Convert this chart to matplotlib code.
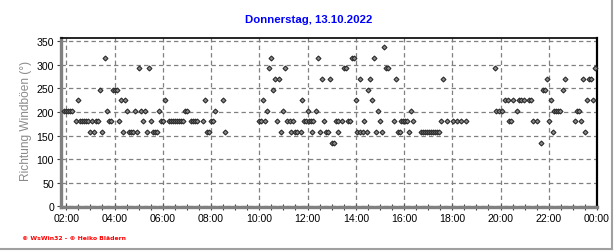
import matplotlib
matplotlib.use("Agg")
import matplotlib.pyplot as plt
from matplotlib.lines import Line2D
from matplotlib.ticker import MultipleLocator

# ---------------- data ----------------
title = "Donnerstag, 13.10.2022"
y_label = "Richtung Windböen (°)"
footer = "© WsWin32 - © Heiko Blädern"

x_tick_hours = [2, 4, 6, 8, 10, 12, 14, 16, 18, 20, 22, 24]
x_tick_labels = ["02:00", "04:00", "06:00", "08:00", "10:00", "12:00",
                 "14:00", "16:00", "18:00", "20:00", "22:00", "00:00"]
y_ticks = [0, 50, 100, 150, 200, 250, 300, 350]

times = [
    "01:55", "02:00", "02:05", "02:10", "02:15", "02:25", "02:30", "02:35", "02:40", "02:45",
    "02:50", "02:55", "03:00", "03:05", "03:10", "03:15", "03:20", "03:25", "03:30", "03:35",
    "03:40", "03:45", "03:50", "03:55", "04:00", "04:05", "04:10", "04:15", "04:20", "04:25",
    "04:30", "04:35", "04:40", "04:45", "04:50", "04:55", "05:00", "05:05", "05:10", "05:15",
    "05:20", "05:25", "05:30", "05:35", "05:40", "05:45", "05:50", "05:55", "06:00", "06:05",
    "06:15", "06:20", "06:25", "06:30", "06:35", "06:40", "06:45", "06:50", "06:55", "07:00",
    "07:10", "07:15", "07:20", "07:25", "07:40", "07:45", "07:50", "07:55", "08:00", "08:05",
    "08:10", "08:30", "08:35",
    "10:00", "10:05", "10:10", "10:15", "10:20", "10:25", "10:30", "10:35", "10:40", "10:45",
    "10:50", "10:55", "11:00", "11:05", "11:10", "11:17", "11:20", "11:25", "11:28", "11:35",
    "11:43", "11:45", "11:50", "11:55", "12:00", "12:03", "12:08", "12:10", "12:13", "12:20",
    "12:25", "12:30", "12:35", "12:40", "12:45", "12:50", "12:55", "13:00", "13:05", "13:10",
    "13:15", "13:17", "13:25", "13:30", "13:35", "13:40", "13:45", "13:50", "13:55", "14:00",
    "14:02", "14:10", "14:10", "14:17", "14:20", "14:27", "14:30", "14:35", "14:40", "14:45",
    "14:50", "14:55", "15:00", "15:05", "15:10", "15:15", "15:20", "15:34", "15:39", "15:44",
    "15:49", "15:52", "15:57", "16:02", "16:07", "16:12", "16:17", "16:22", "16:42", "16:47",
    "16:52", "16:57", "17:02", "17:07", "17:12", "17:17", "17:22", "17:27", "17:32", "17:37",
    "17:47", "18:02", "18:12", "18:22", "18:33",
    "19:46", "19:48", "19:55", "20:03", "20:11", "20:18", "20:21", "20:26", "20:30", "20:40",
    "20:45", "20:50", "20:58", "21:10", "21:17", "21:21", "21:31", "21:40", "21:45", "21:50",
    "21:55", "22:00", "22:05", "22:10", "22:13", "22:18", "22:23", "22:28", "22:35", "22:40",
    "23:05", "23:10", "23:15", "23:20", "23:25", "23:30", "23:35", "23:40", "23:45", "23:50",
    "23:55",
]

directions = [
    202.5, 202.5, 202.5, 202.5, 202.5, 180, 225, 180, 180, 180,
    180, 180, 157.5, 180, 157.5, 180, 180, 247.5, 157.5, 315,
    202.5, 180, 180, 247.5, 247.5, 247.5, 180, 225, 157.5, 225,
    202.5, 157.5, 157.5, 157.5, 202.5, 157.5, 292.5, 202.5, 180, 202.5,
    157.5, 292.5, 180, 157.5, 157.5, 157.5, 202.5, 180, 180, 225,
    180, 180, 180, 180, 180, 180, 180, 180, 202.5, 202.5,
    180, 180, 180, 180, 180, 225, 157.5, 157.5, 180, 180,
    202.5, 225, 157.5,
    180, 180, 225, 180, 202.5, 292.5, 315, 247.5, 270, 180,
    270, 157.5, 202.5, 292.5, 180, 180, 157.5, 180, 157.5, 157.5,
    157.5, 225, 180, 180, 202.5, 180, 180, 157.5, 180, 202.5,
    315, 157.5, 270, 180, 157.5, 157.5, 270, 135, 135, 180,
    157.5, 180, 180, 292.5, 292.5, 180, 180, 315, 315, 225,
    157.5, 157.5, 270, 157.5, 180, 157.5, 247.5, 270, 225, 315,
    157.5, 202.5, 180, 157.5, 337.5, 292.5, 292.5, 180, 270, 157.5,
    157.5, 180, 180, 180, 180, 157.5, 202.5, 180, 157.5, 157.5,
    157.5, 157.5, 157.5, 157.5, 157.5, 157.5, 157.5, 157.5, 180, 270,
    180, 180, 180, 180, 180,
    292.5, 202.5, 202.5, 202.5, 225, 225, 180, 180, 225, 202.5,
    225, 225, 225, 225, 225, 180, 180, 135, 247.5, 247.5,
    270, 180, 225, 157.5, 202.5, 202.5, 202.5, 202.5, 247.5, 270,
    180, 202.5, 202.5, 180, 270, 157.5, 225, 270, 270, 225,
    292.5,
]

# ---------------- figure ----------------
W, H = 616, 253
fig = plt.figure(figsize=(W / 100, H / 100), dpi=100)
fig.patch.set_facecolor("white")

ax_left, ax_right, ax_top, ax_bottom = 61, 597, 39, 208
ax = fig.add_axes([ax_left / W, 1 - ax_bottom / H,
                   (ax_right - ax_left) / W, (ax_bottom - ax_top) / H])

hours = [int(t[:2]) + int(t[3:]) / 60 for t in times]

ax.set_xlim(1.78, 24.0)
ax.set_ylim(-1.5, 357)

ax.plot(hours, directions, linestyle="none", marker="D", markersize=2.5,
        markerfacecolor="#8a8a8a", markeredgecolor="#2a2a2a",
        markeredgewidth=0.8, zorder=3, clip_on=False)

tick_font = {"family": "Liberation Sans", "size": 7.6}

ax.set_xticks(x_tick_hours)
ax.set_xticklabels(x_tick_labels, fontdict=tick_font)
ax.xaxis.set_minor_locator(MultipleLocator(0.5))
ax.set_yticks(y_ticks)
ax.set_yticklabels([str(v) for v in y_ticks], fontdict=tick_font)

ax.tick_params(axis="x", which="major", direction="inout", length=4,
               width=0.8, color="#404040", pad=2)
ax.tick_params(axis="x", which="minor", direction="inout", length=4,
               width=0.8, color="#404040")
ax.tick_params(axis="y", which="major", direction="out", length=3,
               width=0.8, color="#404040", pad=2)

ax.grid(True, which="major", axis="both", color="#808080",
        linestyle=(0, (3.5, 2.5)), linewidth=0.9, zorder=1)
ax.set_axisbelow(True)

for side in ("left", "bottom"):
    ax.spines[side].set_color("#808080")
    ax.spines[side].set_linewidth(2.4)
ax.spines["top"].set_color("black")
ax.spines["top"].set_linewidth(1.2)
ax.spines["right"].set_color("black")
ax.spines["right"].set_linewidth(1.6)

# title
fig.text(309 / W, 1 - 20 / H, title, ha="center", va="center",
         color="#0000ff", fontsize=8.2, fontweight="bold",
         family="Liberation Sans")

# y label
fig.text(26 / W, 1 - 121 / H, y_label, ha="center", va="center",
         rotation=90, color="#8a8a8a", fontsize=8.6,
         family="Liberation Sans")

# footer
fig.text(22 / W, 1 - 239 / H, footer, ha="left", va="center",
         color="#ff0000", fontsize=4.4, fontweight="bold",
         family="DejaVu Sans")

# outer shadow frame (right and bottom)
fig.add_artist(Line2D([612 / W, 612 / W], [1 - 250 / H, 1.0],
                      transform=fig.transFigure, color="#a0a0a0", linewidth=1.5))
fig.add_artist(Line2D([0, 612 / W], [1 - 250 / H, 1 - 250 / H],
                      transform=fig.transFigure, color="#a0a0a0", linewidth=1.5))

fig.savefig("out.png", dpi=100, facecolor="white")
